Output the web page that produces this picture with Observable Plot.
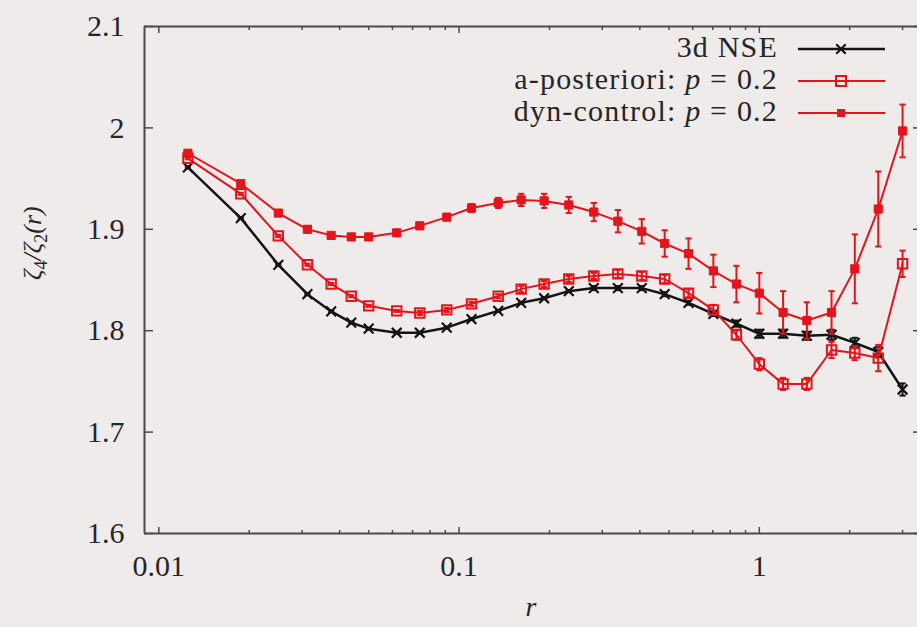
<!DOCTYPE html>
<html>
<head>
<meta charset="utf-8">
<script src="https://cdn.jsdelivr.net/npm/d3@7"></script>
<script src="https://cdn.jsdelivr.net/npm/@observablehq/plot@0.6"></script>
<style>
  html, body { margin: 0; padding: 0; background: #efebeb; }
  #chart { width: 917px; height: 627px; overflow: hidden; }
  #chart svg, #chart svg text { font-family: "Liberation Serif", "DejaVu Serif", "Times New Roman", serif !important; }
</style>
</head>
<body>
<div id="chart"></div>
<script>
// ---- data ----
const r = [0.0125, 0.01875, 0.025, 0.03125, 0.0375, 0.04375, 0.05, 0.062, 0.074, 0.091,
           0.11, 0.135, 0.161, 0.192, 0.232, 0.281, 0.338, 0.406, 0.484, 0.581,
           0.703, 0.839, 1.0, 1.2, 1.44, 1.74, 2.08, 2.49, 3.0];

const nse = [1.961, 1.911, 1.865, 1.836, 1.819, 1.808, 1.802, 1.798, 1.798, 1.803,
             1.8115, 1.8195, 1.8275, 1.832, 1.839, 1.842, 1.842, 1.842, 1.836, 1.8275,
             1.8165, 1.807, 1.797, 1.797, 1.795, 1.796, 1.788, 1.779, 1.742];
const nseErr = [0.001, 0.001, 0.001, 0.001, 0.001, 0.001, 0.001, 0.001, 0.001, 0.001,
                0.001, 0.001, 0.001, 0.001, 0.001, 0.002, 0.002, 0.002, 0.002, 0.002,
                0.002, 0.003, 0.004, 0.004, 0.004, 0.005, 0.005, 0.005, 0.006];

const apost = [1.970, 1.935, 1.8935, 1.865, 1.846, 1.834, 1.8245, 1.8195, 1.8175, 1.8205,
               1.8265, 1.834, 1.841, 1.846, 1.851, 1.854, 1.856, 1.854, 1.851, 1.837,
               1.8205, 1.796, 1.767, 1.7475, 1.7475, 1.781, 1.778, 1.773, 1.866];
const apostErr = [0.001, 0.001, 0.001, 0.001, 0.001, 0.001, 0.001, 0.001, 0.002, 0.002,
                  0.002, 0.002, 0.003, 0.003, 0.003, 0.003, 0.004, 0.004, 0.004, 0.004,
                  0.005, 0.005, 0.006, 0.006, 0.006, 0.008, 0.007, 0.013, 0.013];

const dyn = [1.975, 1.945, 1.916, 1.900, 1.894, 1.8925, 1.8925, 1.8965, 1.9034, 1.912,
             1.921, 1.926, 1.929, 1.928, 1.924, 1.917, 1.908, 1.898, 1.886, 1.876,
             1.859, 1.846, 1.837, 1.818, 1.810, 1.818, 1.861, 1.920, 1.997];
const dynErr = [0.002, 0.002, 0.002, 0.002, 0.002, 0.002, 0.002, 0.003, 0.003, 0.003,
                0.004, 0.005, 0.006, 0.007, 0.008, 0.009, 0.011, 0.012, 0.013, 0.015,
                0.016, 0.018, 0.020, 0.021, 0.018, 0.021, 0.034, 0.037, 0.026];

const xTicks = [0.01, 0.1, 1];
const xMinor = [0.02, 0.03, 0.04, 0.05, 0.06, 0.07, 0.08, 0.09,
                0.2, 0.3, 0.4, 0.5, 0.6, 0.7, 0.8, 0.9, 2, 3];
const yTicks = [1.6, 1.7, 1.8, 1.9, 2, 2.1];
const xDomain = [0.00896, 3.364];
const yDomain = [1.6, 2.1];

const seriesNames = ["3d NSE", "a-posteriori:", "dyn-control:"];
const seriesParam = "p";
const seriesParamValue = "= 0.2";
const xLabel = "r";
const yLabelParts = ["ζ", "4", "/ζ", "2", "(r)"];

// ---- build tables ----
const toRows = (ys, es) => r.map((x, i) => ({r: x, v: ys[i], e: es[i]}));
const nseRows = toRows(nse, nseErr);
const apostRows = toRows(apost, apostErr);
const dynRows = toRows(dyn, dynErr);

const black = "#141414";
const red = "#e3141c";
const axisColor = "#4a4a4a";
const textColor = "#262626";
const serif = "'Liberation Serif', 'DejaVu Serif', 'Times New Roman', serif";

// horizontal cap symbol for error bars
const capSymbol = {
  draw(ctx, size) {
    const w = Math.sqrt(size) / 2;
    ctx.moveTo(-w, 0);
    ctx.lineTo(w, 0);
  }
};

function errorMarks(rows, color, capR) {
  return [
    Plot.ruleX(rows, {x: "r", y1: d => d.v - d.e, y2: d => d.v + d.e, stroke: color, strokeWidth: 2}),
    Plot.dot(rows, {x: "r", y: d => d.v + d.e, symbol: capSymbol, r: capR, stroke: color, strokeWidth: 2, fill: "none"}),
    Plot.dot(rows, {x: "r", y: d => d.v - d.e, symbol: capSymbol, r: capR, stroke: color, strokeWidth: 2, fill: "none"})
  ];
}

const svg = Plot.plot({
  width: 917,
  height: 627,
  marginLeft: 144,
  marginRight: 0,
  marginTop: 26,
  marginBottom: 94,
  style: {
    background: "#efebeb",
    fontFamily: serif,
    fontSize: "30px",
    color: textColor,
    overflow: "visible"
  },
  x: {type: "log", domain: xDomain},
  y: {domain: yDomain},
  marks: [
    // frame (top, bottom, left)
    Plot.ruleY(yDomain, {stroke: axisColor, strokeWidth: 2}),
    Plot.ruleX([xDomain[0]], {stroke: axisColor, strokeWidth: 2}),
    // ticks (inward)
    Plot.axisY(yTicks, {anchor: "left", tickSize: -9, fill: "none", stroke: axisColor, strokeWidth: 1.5, label: null}),
    Plot.axisY(yTicks, {anchor: "right", tickSize: -5, fill: "none", stroke: axisColor, strokeWidth: 1.5, label: null}),
    Plot.axisX(xTicks, {anchor: "bottom", tickSize: -6, fill: "none", stroke: axisColor, strokeWidth: 1.5, label: null}),
    Plot.axisX(xMinor, {anchor: "bottom", tickSize: -3, fill: "none", stroke: axisColor, strokeWidth: 1.5, label: null}),
    Plot.axisX(xTicks, {anchor: "top", tickSize: -6, fill: "none", stroke: axisColor, strokeWidth: 1.5, label: null}),
    Plot.axisX(xMinor, {anchor: "top", tickSize: -3, fill: "none", stroke: axisColor, strokeWidth: 1.5, label: null}),
    // tick labels
    Plot.axisY(yTicks, {anchor: "left", tickSize: 0, tickPadding: 20, label: null, tickFormat: d => String(d), fill: textColor, fontFamily: serif}),
    Plot.axisX(xTicks, {anchor: "bottom", tickSize: 0, tickPadding: 21, label: null, tickFormat: d => String(d), fill: textColor, fontFamily: serif}),

    // 3d NSE
    Plot.line(nseRows, {x: "r", y: "v", stroke: black, strokeWidth: 2.5}),
    ...errorMarks(nseRows, black, 3.5),
    Plot.dot(nseRows, {x: "r", y: "v", symbol: "times", r: 4.5, stroke: black, strokeWidth: 2.2}),

    // a-posteriori
    Plot.line(apostRows, {x: "r", y: "v", stroke: red, strokeWidth: 2}),
    ...errorMarks(apostRows, red, 3.5),
    Plot.dot(apostRows, {x: "r", y: "v", symbol: "square", r: 5.3, stroke: red, strokeWidth: 2, fill: "none"}),

    // dyn-control
    Plot.line(dynRows, {x: "r", y: "v", stroke: red, strokeWidth: 2}),
    ...errorMarks(dynRows, red, 3.5),
    Plot.dot(dynRows, {x: "r", y: "v", symbol: "square", r: 4.6, fill: red, stroke: red, strokeWidth: 1}),

    // axis labels
    Plot.text([xLabel], {frameAnchor: "bottom", dy: 82, text: d => d, fontStyle: "italic", fontSize: 28, fill: textColor, fontFamily: serif}),
    Plot.text([yLabelParts.join("")], {frameAnchor: "left", dx: -112, rotate: -90, text: d => d, fontStyle: "italic", fontSize: 26, fill: textColor, fontFamily: serif})
  ]
});

document.getElementById("chart").appendChild(svg);

// y label with subscripts
const joined = yLabelParts.join("");
d3.select(svg).selectAll("text").filter(function() { return this.textContent === joined; }).each(function() {
  const yl = d3.select(this);
  yl.text(null);
  yl.append("tspan").text(yLabelParts[0]);
  yl.append("tspan").attr("font-size", 18).attr("dy", 6).attr("font-style", "normal").text(yLabelParts[1]);
  yl.append("tspan").attr("dy", -6).text(yLabelParts[2]);
  yl.append("tspan").attr("font-size", 18).attr("dy", 6).attr("font-style", "normal").text(yLabelParts[3]);
  yl.append("tspan").attr("dy", -6).text(yLabelParts[4]);
});

// legend (top-right, inside the frame)
const legendSpec = [
  {name: seriesNames[0], color: black, kind: "times", param: false},
  {name: seriesNames[1], color: red, kind: "open", param: true},
  {name: seriesNames[2], color: red, kind: "filled", param: true}
];
const lg = d3.select(svg).append("g").attr("class", "legend").attr("font-family", serif);
legendSpec.forEach((s, i) => {
  const cy = 49 + i * 32;
  const t = lg.append("text")
    .attr("x", 778).attr("y", cy + 8)
    .attr("text-anchor", "end")
    .attr("font-size", 30)
    .attr("letter-spacing", "1.2px")
    .attr("fill", textColor);
  if (s.param) {
    t.append("tspan").text(s.name + " ");
    t.append("tspan").attr("font-style", "italic").text(seriesParam);
    t.append("tspan").text(" " + seriesParamValue);
  } else {
    t.text(s.name);
  }
  lg.append("line").attr("x1", 798).attr("x2", 885).attr("y1", cy).attr("y2", cy)
    .attr("stroke", s.color).attr("stroke-width", s.kind === "times" ? 2.5 : 2);
  if (s.kind === "times") {
    lg.append("path").attr("d", d3.symbol(d3.symbolTimes, 60)())
      .attr("transform", `translate(841,${cy})`).attr("stroke", s.color).attr("stroke-width", 2.2).attr("fill", "none");
  } else if (s.kind === "open") {
    lg.append("rect").attr("x", 841 - 5).attr("y", cy - 5).attr("width", 10).attr("height", 10)
      .attr("fill", "none").attr("stroke", s.color).attr("stroke-width", 2);
  } else {
    lg.append("rect").attr("x", 841 - 4).attr("y", cy - 4).attr("width", 8).attr("height", 8)
      .attr("fill", s.color);
  }
});
</script>
</body>
</html>
